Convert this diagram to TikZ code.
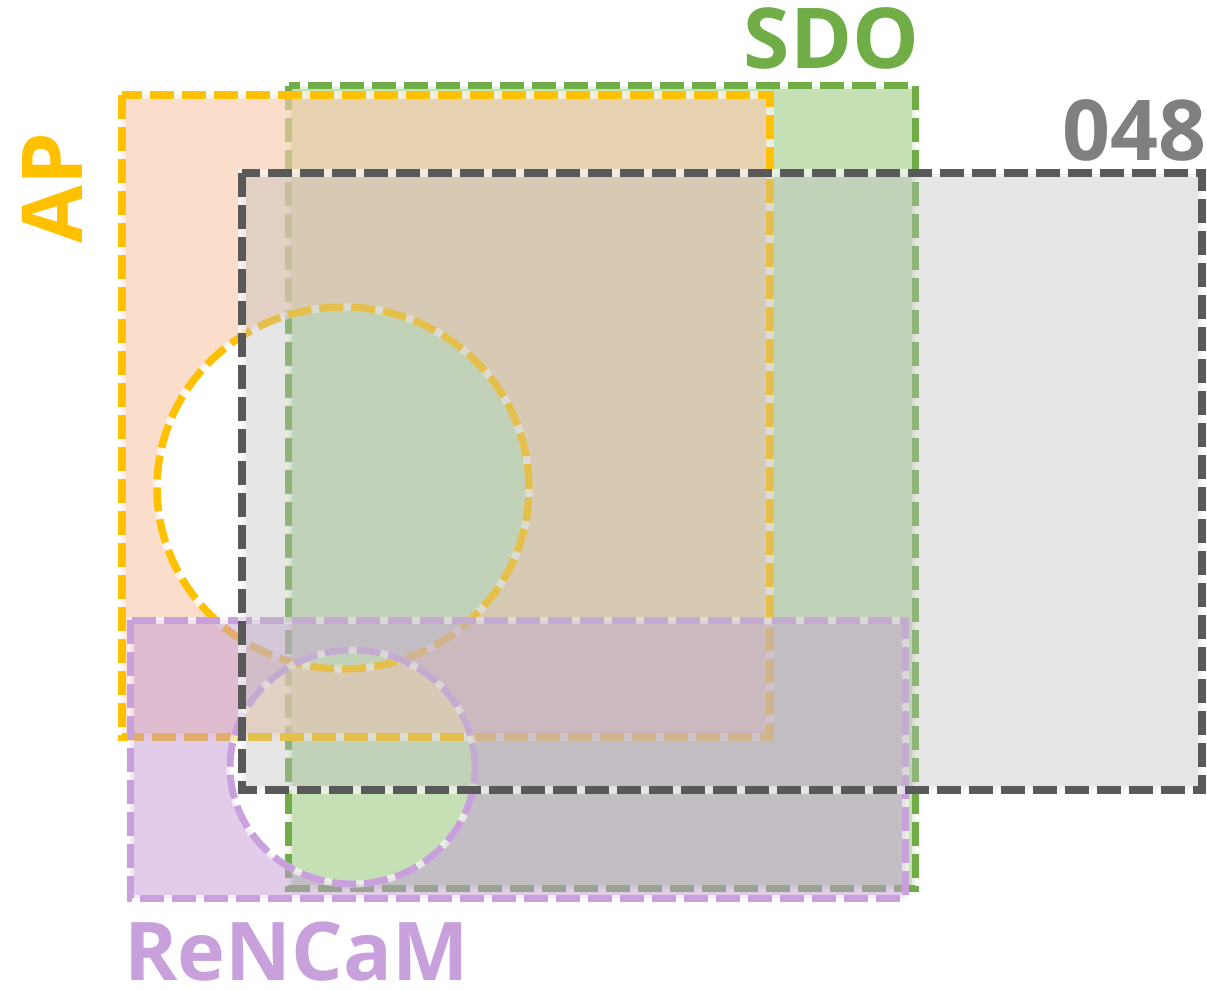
\documentclass[tikz,border=0pt]{standalone}
\usepackage{fontspec}
\setmainfont{Open Sans}
\definecolor{sdofill}{HTML}{C5E0B4}
\definecolor{sdoline}{HTML}{70AD47}
\definecolor{apfill}{HTML}{F8CBAD}
\definecolor{apline}{HTML}{FFC000}
\definecolor{rnfill}{HTML}{C39BD5}
\definecolor{rnline}{HTML}{C8A0DC}
\definecolor{gfill}{HTML}{BFBFBF}
\definecolor{gline}{HTML}{595959}
\definecolor{gtext}{HTML}{7F7F7F}
\begin{document}
\begin{tikzpicture}[x=1pt,y=-1pt,line join=miter,
  dashedge/.style={dash pattern=on 24pt off 8pt},
  halo/.style={draw=white,draw opacity=0.6},
  lbl/.style={font=\fontsize{84}{84}\selectfont\bfseries,inner sep=0pt,anchor=base}]
\useasboundingbox (0,0) rectangle (1207,990);

% corners of the four regions
\coordinate (sdoA) at (288.5,85.5);  \coordinate (sdoB) at (915,888.5);
\coordinate (apA)  at (122,95);      \coordinate (apB)  at (770,737);
\coordinate (rnA)  at (130,620);     \coordinate (rnB)  at (905,898);
\coordinate (gA)   at (242,173);     \coordinate (gB)   at (1202,790);
\coordinate (apC)  at (343,488);     \coordinate (rnC)  at (352.5,767);

% SDO
\fill[sdofill] (sdoA) rectangle (sdoB);
\draw[halo,line width=7pt] (sdoA) rectangle (sdoB);
\draw[sdoline,line width=7pt,dashedge] (sdoA) rectangle (sdoB);

% AP, with a round hole
\fill[apfill,fill opacity=0.65,even odd rule] (apA) rectangle (apB)
  (apC) ellipse [x radius=186pt,y radius=181pt];
\draw[halo,line width=7.5pt] (apA) rectangle (apB);
\draw[halo,line width=7.5pt] (apC) ellipse [x radius=186pt,y radius=181pt];
\draw[apline,line width=7.5pt,dashedge] (apA) rectangle (apB);
\draw[apline,line width=7.5pt,dashedge] (apC) ellipse [x radius=186pt,y radius=181pt];

% ReNCaM, with a round hole
\fill[rnfill,fill opacity=0.5,even odd rule] (rnA) rectangle (rnB)
  (rnC) ellipse [x radius=122.5pt,y radius=117pt];
\draw[halo,line width=7pt] (rnA) rectangle (rnB);
\draw[halo,line width=7pt] (rnC) ellipse [x radius=122.5pt,y radius=117pt];
\draw[rnline,line width=7pt,dashedge] (rnA) rectangle (rnB);
\draw[rnline,line width=7pt,dashedge] (rnC) ellipse [x radius=122.5pt,y radius=117pt];

% 048
\fill[gfill,fill opacity=0.4] (gA) rectangle (gB);
\draw[halo,line width=7.5pt] (gA) rectangle (gB);
\draw[gline,line width=7.5pt,dashedge] (gA) rectangle (gB);

% labels
\node[lbl,text=sdoline] (lsdo) at (831.5,68) {SDO};
\node[lbl,text=gtext] (lg) at (1134,160) {048};
\node[lbl,text=rnline,font=\fontsize{81}{81}\selectfont\bfseries] (lrn) at (296.5,980) {ReNCaM};
\node[lbl,text=apline,rotate=90] (lap) at (82,188) {AP};
\end{tikzpicture}
\end{document}
